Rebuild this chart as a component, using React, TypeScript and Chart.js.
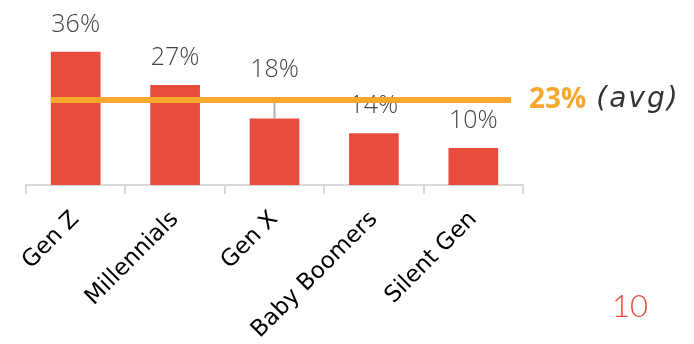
import React, { useEffect, useRef } from 'react';
import { Chart, registerables } from 'chart.js';

Chart.register(...registerables);

const categories = ['Gen Z', 'Millennials', 'Gen X', 'Baby Boomers', 'Silent Gen'];
const shares = [36, 27, 18, 14, 10];
const valueLabels = ['36%', '27%', '18%', '14%', '10%'];
const whiskerTop: (number | null)[] = [null, null, 23, null, null];
const average = 23;
const averageLabel = '23%';
const averageNote = '(avg)';
const pageNumber = '10';

const RED = '#e74c3c';
const ORANGE = '#f7a82d';

const overlay = {
  id: 'overlay',
  afterDatasetsDraw(chart: any) {
    const ctx = chart.ctx as CanvasRenderingContext2D;
    const meta = chart.getDatasetMeta(0);
    const xs = chart.scales.x;
    const ys = chart.scales.y;
    const step = xs.getPixelForValue(1) - xs.getPixelForValue(0);
    const yAvg = ys.getPixelForValue(average);
    ctx.save();
    // whiskers
    ctx.strokeStyle = '#b0b0b0';
    ctx.lineWidth = 2;
    meta.data.forEach((bar: any, i: number) => {
      const w = whiskerTop[i];
      if (w == null) return;
      ctx.beginPath();
      ctx.moveTo(bar.x, bar.y);
      ctx.lineTo(bar.x, ys.getPixelForValue(w));
      ctx.stroke();
    });
    // value labels
    ctx.fillStyle = '#444';
    ctx.font = '300 25px "Open Sans", Lato, sans-serif';
    ctx.textAlign = 'center';
    ctx.textBaseline = 'alphabetic';
    meta.data.forEach((bar: any, i: number) => {
      let anchor = bar.y;
      const w = whiskerTop[i];
      if (w != null) anchor = Math.min(anchor, ys.getPixelForValue(w) - 3);
      ctx.fillText(valueLabels[i], bar.x, anchor - 20);
    });
    // average line
    const first = meta.data[0];
    const last = meta.data[meta.data.length - 1];
    ctx.strokeStyle = ORANGE;
    ctx.lineWidth = 6;
    ctx.beginPath();
    ctx.moveTo(first.x - first.width / 2, yAvg);
    ctx.lineTo(last.x + step * 0.38, yAvg);
    ctx.stroke();
    // average label
    const lx = xs.right + 6;
    ctx.textAlign = 'left';
    ctx.textBaseline = 'middle';
    ctx.font = 'bold 28px "Open Sans", Lato, sans-serif';
    ctx.fillStyle = ORANGE;
    ctx.fillText(averageLabel, lx, yAvg);
    const w1 = ctx.measureText(averageLabel).width + 10;
    ctx.font = 'italic 28px "DejaVu Sans", sans-serif';
    (ctx as any).letterSpacing = '2px';
    ctx.fillStyle = '#333';
    ctx.fillText(averageNote, lx + w1, yAvg);
    (ctx as any).letterSpacing = '0px';
    // page number
    ctx.font = '300 31px Lato, "Open Sans", sans-serif';
    ctx.fillStyle = RED;
    ctx.textAlign = 'right';
    ctx.textBaseline = 'alphabetic';
    ctx.fillText(pageNumber, chart.width - 46, 317);
    ctx.restore();
  },
};

export default function App() {
  const ref = useRef<HTMLCanvasElement>(null);
  useEffect(() => {
    if (!ref.current) return;
    const chart = new Chart(ref.current, {
      type: 'bar',
      data: {
        labels: categories,
        datasets: [
          {
            data: shares,
            backgroundColor: RED,
            barPercentage: 0.5,
            categoryPercentage: 1.0,
          },
        ],
      },
      options: {
        responsive: false,
        animation: false,
        layout: { padding: { left: 26, right: 171, top: 0, bottom: 0 } },
        plugins: { legend: { display: false }, tooltip: { enabled: false } },
        scales: {
          x: {
            offset: true,
            grid: {
              display: true,
              drawOnChartArea: false,
              drawTicks: true,
              tickLength: 9,
              color: '#d9d9d9',
              lineWidth: 2,
              offset: true,
            },
            border: { display: true, color: '#d9d9d9', width: 2 },
            ticks: {
              minRotation: 45,
              maxRotation: 45,
              autoSkip: false,
              color: '#000',
              padding: 12,
              font: { family: '"DejaVu Sans", sans-serif', size: 23 },
            },
            afterFit: (s: any) => {
              s.height = 159;
              s.paddingLeft = 0;
              s.paddingRight = 0;
            },
          },
          y: { display: false, min: 0, max: 50 },
        },
      },
      plugins: [overlay],
    });
    return () => chart.destroy();
  }, []);
  return (
    <div style={{ position: 'fixed', left: 0, top: 0, width: 694, height: 344, background: '#fff' }}>
      <canvas ref={ref} width={694} height={344} />
    </div>
  );
}
